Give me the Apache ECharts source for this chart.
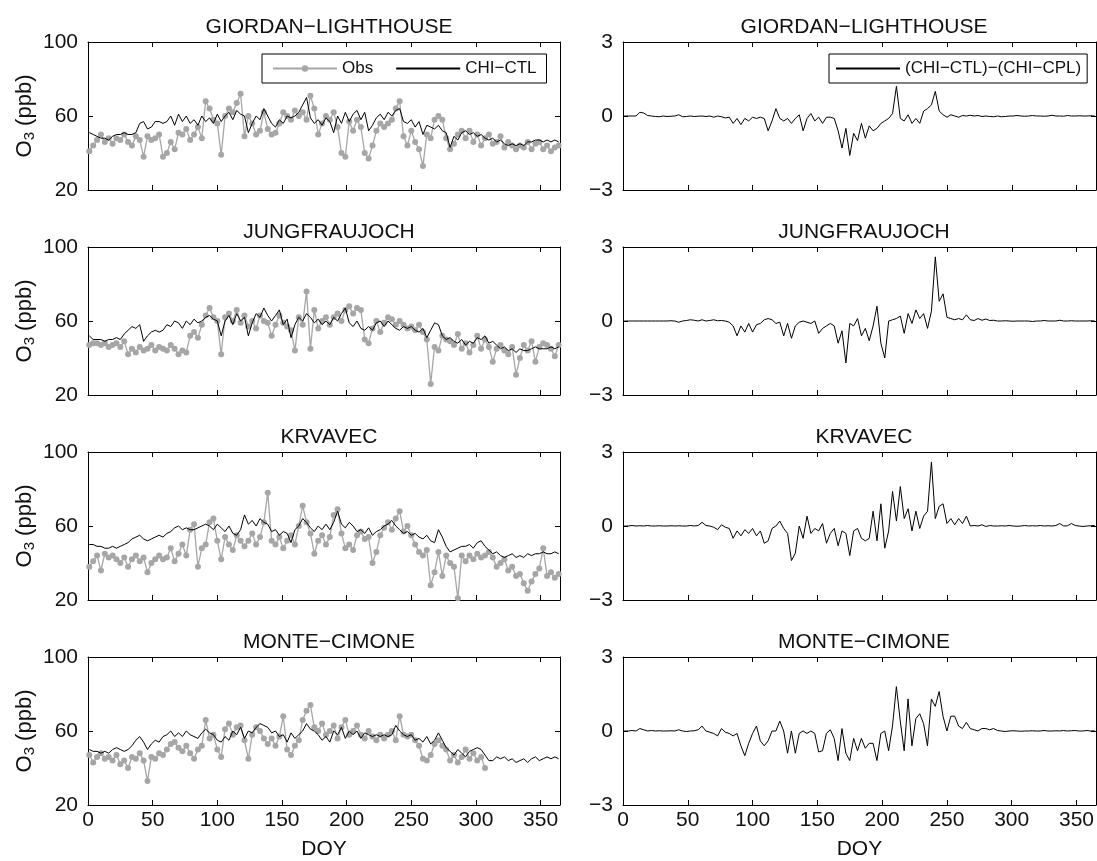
<!DOCTYPE html>
<html>
<head>
<meta charset="utf-8">
<script src="https://cdn.jsdelivr.net/npm/echarts@6/dist/echarts.min.js"></script>
<style>
  html, body { margin: 0; padding: 0; background: #fff; }
  #main { width: 1097px; height: 861px; }
</style>
</head>
<body>
<div id="main"></div>
<script>
// station names, one row each
const stations = ['GIORDAN−LIGHTHOUSE', 'JUNGFRAUJOCH', 'KRVAVEC', 'MONTE−CIMONE'];

// day of year of each sample (read every third day)
const days = Array.from({ length: 122 }, (_, i) => 1 + 3 * i);

// ---- O3 (ppb): observations and CHI-CTL run ----
const giordanObs = [
  41, 44, 47, 50, 46, 48, 45,
  48, 47, 50, 46, 44, 49,
  47, 38, 49, 47, 48, 50, 38,
  40, 46, 42, 51, 50, 53, 47,
  50, 54, 48, 68, 64, 58, 56,
  39, 60, 64, 62, 67, 72, 49,
  60, 56, 50, 52, 62, 53, 50,
  51, 56, 62, 60, 58, 63, 60,
  62, 58, 71, 64, 50, 56, 60,
  58, 62, 54, 40, 38, 57, 52,
  58, 54, 40, 37, 44, 52, 56,
  54, 56, 58, 64, 68, 49, 44,
  52, 46, 42, 33, 50, 48, 58,
  60, 58, 48, 42, 45, 50, 52,
  48, 52, 46, 50, 44, 48, 50,
  45, 46, 49, 43, 46, 44, 42,
  44, 43, 46, 42, 45, 46, 42,
  44, 41, 43, 44
];
const giordanCtl = [
  51, 50, 49, 48, 48, 47, 49,
  50, 50, 51, 50, 50, 51,
  56, 57, 53, 54, 57, 57, 56,
  57, 60, 55, 61, 57, 60, 56,
  58, 55, 60, 57, 59, 56, 61,
  57, 60, 62, 58, 63, 61, 60,
  51, 56, 60, 58, 64, 60, 56,
  54, 58, 56, 60, 59, 60, 62,
  66, 70, 59, 56, 58, 55, 59,
  57, 51, 60, 56, 62, 57, 61,
  63, 58, 62, 52, 55, 59, 61,
  58, 62, 60, 63, 64, 57, 56,
  58, 54, 57, 50, 55, 54, 53,
  55, 52, 51, 43, 49, 47, 51,
  52, 50, 51, 49, 50, 48, 47,
  48, 46, 47, 45, 44, 45, 44,
  45, 44, 46, 46, 47, 47, 46,
  47, 46, 47, 46
];
const jungfrauObs = [
  47, 48, 48, 47, 48, 46, 47,
  48, 46, 49, 42, 45, 43,
  46, 44, 45, 47, 44, 46, 45,
  44, 47, 45, 42, 44, 43, 52,
  54, 51, 58, 63, 67, 62, 60,
  42, 62, 64, 60, 66, 59, 63,
  57, 60, 56, 63, 60, 59, 52,
  58, 63, 59, 57, 55, 44, 62,
  58, 76, 45, 66, 56, 60, 62,
  58, 62, 64, 60, 66, 68, 64,
  67, 66, 50, 48, 56, 60, 54,
  59, 62, 61, 58, 60, 58, 56,
  57, 55, 58, 54, 50, 26, 46,
  44, 52, 50, 49, 47, 53, 45,
  48, 43, 47, 52, 45, 50, 46,
  38, 45, 47, 44, 42, 46, 31,
  40, 47, 44, 49, 38, 46, 48,
  47, 45, 41, 47
];
const jungfrauCtl = [
  52, 50, 50, 50, 49, 50, 50,
  51, 50, 53, 55, 57, 56,
  58, 49, 52, 54, 55, 54, 55,
  58, 57, 60, 59, 56, 60, 58,
  61, 59, 60, 62, 63, 61, 60,
  52, 60, 63, 58, 64, 60, 62,
  52, 59, 64, 62, 67, 63, 60,
  63, 66, 58, 61, 51, 58, 62,
  60, 64, 62, 59, 61, 58, 60,
  58, 62, 60, 64, 67, 59, 57,
  60, 56, 55, 57, 55, 59, 60,
  57, 60, 58, 56, 55, 57, 56,
  57, 55, 54, 56, 51, 55, 59,
  58, 52, 50, 51, 49, 48, 50,
  47, 49, 48, 51, 50, 52, 48,
  49, 47, 45, 46, 44, 45, 43,
  45, 44, 44, 45, 46, 45, 45,
  45, 46, 45, 46
];
const krvavecObs = [
  38, 41, 44, 36, 45, 43, 44,
  42, 40, 43, 38, 42, 44,
  41, 43, 35, 40, 42, 44, 42,
  43, 48, 41, 45, 50, 44, 58,
  61, 38, 48, 50, 62, 64, 52,
  42, 54, 50, 47, 55, 52, 49,
  52, 56, 50, 54, 62, 78, 52,
  50, 54, 48, 52, 55, 50, 60,
  71, 62, 56, 45, 52, 55, 50,
  54, 66, 69, 56, 48, 50, 47,
  55, 57, 53, 54, 40, 46, 55,
  59, 62, 58, 64, 68, 57, 60,
  55, 50, 46, 44, 47, 28, 35,
  46, 33, 44, 40, 38, 21, 44,
  41, 44, 42, 45, 43, 44, 46,
  43, 38, 40, 42, 36, 38, 33,
  34, 29, 25, 30, 34, 37, 48,
  33, 35, 32, 34
];
const krvavecCtl = [
  50, 50, 49, 49, 48, 48, 49,
  48, 49, 50, 51, 53, 54,
  55, 53, 52, 53, 54, 55, 54,
  56, 57, 59, 60, 58, 59, 58,
  58, 59, 60, 61, 60, 58, 61,
  59, 57, 60, 56, 55, 58, 66,
  61, 63, 60, 64, 62, 61, 57,
  58, 55, 57, 56, 51, 58, 60,
  64, 62, 59, 57, 60, 58, 61,
  58, 62, 68, 61, 59, 62, 60,
  57, 58, 56, 59, 55, 57, 58,
  60, 61, 63, 60, 58, 56, 57,
  55, 56, 54, 53, 55, 52, 51,
  58, 54, 49, 46, 47, 48, 49,
  49, 50, 48, 51, 52, 49, 47,
  45, 46, 44, 43, 44, 45, 43,
  44, 43, 45, 44, 45, 45, 46,
  45, 45, 46, 45
];
// Monte Cimone observations stop near day 307
const cimoneObs = [
  47, 43, 46, 48, 45, 46, 44,
  47, 42, 44, 40, 46, 45,
  48, 44, 33, 46, 45, 48, 47,
  50, 53, 54, 51, 49, 52, 48,
  45, 50, 52, 66, 56, 58, 50,
  46, 61, 64, 58, 62, 63, 55,
  45, 58, 62, 60, 56, 53, 56,
  52, 57, 68, 50, 47, 52, 55,
  66, 71, 74, 62, 60, 64, 58,
  60, 63, 56, 62, 66, 58, 60,
  63, 58, 56, 60, 57, 55, 58,
  56, 58, 60, 55, 68, 58, 57,
  58, 55, 52, 45, 44, 47, 53,
  55, 52, 50, 44, 47, 43, 46,
  50, 45, 48, 44, 46, 40
];
const cimoneCtl = [
  50, 49, 49, 48, 49, 48, 50,
  51, 50, 49, 50, 52, 55,
  57, 54, 50, 53, 55, 54, 57,
  58, 60, 57, 59, 57, 60, 58,
  57, 56, 59, 61, 59, 58, 55,
  54, 57, 55, 60, 58, 62, 56,
  60, 59, 62, 64, 63, 62, 59,
  60, 57, 58, 54, 59, 56, 58,
  60, 64, 61, 60, 58, 55, 57,
  54, 60, 58, 62, 56, 60, 58,
  60, 56, 59, 58, 57, 58, 57,
  58, 57, 58, 63, 60, 58, 57,
  58, 55, 56, 54, 57, 53, 55,
  59, 55, 51, 49, 47, 50, 48,
  46, 49, 50, 51, 50, 47, 44,
  44, 46, 45, 46, 44, 45, 43,
  44, 45, 43, 45, 46, 44, 45,
  46, 45, 46, 45
];

// ---- (CHI-CTL)-(CHI-CPL) differences ----
const giordanDiff = [
  0, 0, 0, 0, 0.15, 0.12, 0.02,
  0, -0.02, -0.03, 0, -0.02, -0.01,
  0, 0.05, -0.03, -0.02, 0, -0.02, -0.01,
  0, -0.02, 0, -0.05, 0, -0.03, -0.08,
  -0.05, -0.3, -0.1, -0.35, -0.1, -0.2, -0.05,
  -0.1, -0.05, -0.1, -0.6, -0.2, 0.3, -0.1,
  -0.2, -0.1, -0.3, -0.1, 0.05, -0.6, -0.1,
  0.1, -0.2, -0.05, -0.3, -0.05, -0.05, -0.1,
  -0.6, -1.3, -0.5, -1.6, -0.7, -1.0, -0.3,
  -0.9, -0.4, -0.6, -0.5, -0.3, -0.2, -0.1,
  0.1, 1.2, -0.1, -0.2, 0.05, -0.3, -0.1,
  -0.3, 0.2, 0.3, 0.45, 1.0, 0.2, 0.05,
  -0.05, 0.05, 0, -0.05, 0.02, 0, 0.03,
  0, 0.02, -0.02, 0, -0.02, -0.03, 0,
  -0.03, -0.02, 0, 0, 0.02, 0, -0.01,
  0, 0.02, 0, 0, -0.01, 0, 0.03,
  0, 0, -0.01, 0.02, 0, 0, 0.01,
  0, 0, 0.01, 0
];
const jungfrauDiff = [
  0, 0, 0, 0, 0, 0, 0,
  0, 0, 0, 0, 0, 0.01,
  0, -0.05, 0, 0.02, 0.05, 0.03, 0,
  0.05, 0, 0.02, 0.05, 0.01, 0.02, 0,
  -0.05, -0.2, -0.6, -0.2, -0.45, -0.1, -0.45,
  -0.15, -0.1, 0.05, 0.1, 0.05, -0.1, -0.05,
  -0.6, -0.1, -0.7, -0.2, -0.05, 0, -0.05,
  -0.1, 0, -0.5, -0.3, -0.2, -0.1, -0.2,
  -0.9, -0.4, -1.7, -0.1, -0.2, 0.1, -0.6,
  -0.3, -0.8, -0.2, 0.6, -0.9, -1.5, 0,
  0.05, 0.1, 0.2, -0.5, 0.3, -0.1, 0.45,
  0.1, 0.3, -0.3, 0.4, 2.6, 0.8, 1.1,
  0.15, 0.1, 0.05, 0.1, 0.05, 0.25, 0.05,
  0.02, 0.1, 0.03, 0.08, 0.02, 0.03, 0,
  0, 0.01, 0, -0.01, 0, 0, 0,
  0, -0.02, 0, 0, 0.02, 0, 0,
  0, 0.03, 0, 0, 0.01, 0, 0,
  0, 0, 0.01, 0
];
const krvavecDiff = [
  0, 0, 0.02, 0, 0.01, 0, 0.02,
  0, 0, 0.01, 0, 0, 0.01,
  0, 0.01, 0, 0, 0.02, 0, 0.02,
  0.15, 0.02, 0, -0.05, -0.15, 0.05, -0.05,
  -0.1, -0.5, -0.2, -0.4, -0.15, -0.3, -0.1,
  -0.4, -0.2, -0.7, -0.6, -0.1, 0, 0.2,
  -0.1, -0.3, -1.4, -1.1, 0, -0.5, 0.4,
  -0.3, -0.1, -0.2, 0.1, -0.7, -0.3, -0.1,
  -0.8, -0.2, -0.3, -1.2, -0.2, -0.1, -0.5,
  -0.6, -0.5, 0.6, -0.6, 0.9, -0.9, -0.2,
  1.4, 0.2, 1.6, 0.3, 0.7, -0.2, 0.6,
  -0.1, 0.4, 0.6, 2.6, 0.3, 0.8, 0.9,
  0.1, 0.3, 0.05, 0.3, 0.1, 0.4, 0,
  0.02, 0, 0.05, -0.02, 0.02, 0, 0,
  0.01, 0, 0.02, 0, -0.01, 0, 0.02,
  0, 0.01, 0, 0.02, 0, 0.01, 0,
  0.02, 0.1, 0, 0.01, 0.1, 0.02, 0,
  -0.02, 0, 0.01, 0.02
];
const cimoneDiff = [
  0, 0, 0.02, 0, 0.1, 0.05, 0,
  0.02, 0, 0.01, 0, 0, 0.01,
  0, 0.05, 0, -0.02, 0, 0.01, 0.05,
  0.2, 0, -0.05, -0.1, -0.2, 0.1, -0.05,
  -0.1, -0.2, -0.1, -0.6, -1.0, -0.5, -0.1,
  0.2, -0.4, -0.6, -0.4, 0, 0, 0.4,
  0, -0.9, 0, -0.9, -0.1, 0, -0.1,
  0, -0.1, -0.85, -0.8, -0.1, 0.05, -0.3,
  -1.2, 0.1, -0.9, -1.2, -0.3, -0.8, -0.3,
  -0.7, -0.5, -0.5, -1.2, -0.1, 0, -0.8,
  0.2, 1.8, 0.4, -0.8, 1.3, -0.6, 0.5,
  0.7, 0.3, -0.6, 1.3, 1.0, 1.6, 0.6,
  0, 0.6, 0.6, 0.2, 0.1, 0.35, 0.1,
  0.05, 0, 0.1, 0.1, 0.05, 0.1, 0.02,
  0, -0.02, 0, 0.01, 0, -0.01, 0,
  0, 0.01, 0, 0, 0.02, 0, 0,
  0.01, 0, 0.02, 0, 0.01, 0.02, 0,
  0, 0.02, 0, 0.01
];

const obsRows = [giordanObs, jungfrauObs, krvavecObs, cimoneObs];
const ctlRows = [giordanCtl, jungfrauCtl, krvavecCtl, cimoneCtl];
const diffRows = [giordanDiff, jungfrauDiff, krvavecDiff, cimoneDiff];

const o3Ticks = [20, 60, 100];
const diffTicks = [-3, 0, 3];

// layout
const FONT = '"Liberation Sans", Arial, sans-serif';
const COL_LEFT = [88, 623];
const PLOT_W = 472;
const ROW_TOP = [42, 247, 452, 657];
const PLOT_H = 148;
const GRAY = '#a6a6a6';
const INK = '#111';
const FS = 21;

const pair = arr => arr.map((v, i) => [days[i], v]);
const minusSign = v => (v < 0 ? '−' + Math.abs(v) : String(v));

const grid = [], xAxis = [], yAxis = [], title = [], series = [];

for (let r = 0; r < 4; r++) {
  for (let c = 0; c < 2; c++) {
    const p = r * 2 + c;
    const left = COL_LEFT[c], top = ROW_TOP[r];
    grid.push({ left: left, top: top, width: PLOT_W + (c === 1 ? 1 : 0), height: PLOT_H });
    title.push({
      text: stations[r],
      left: left + PLOT_W / 2,
      top: top - 30,
      textAlign: 'center',
      textStyle: { fontFamily: FONT, fontSize: FS, fontWeight: 'normal', color: INK }
    });

    const boxLine = { show: true, onZero: false, lineStyle: { color: '#000', width: 1 } };
    const inTick = { show: true, inside: true, length: 5, lineStyle: { color: '#000', width: 1 } };
    const last = r === 3;
    xAxis.push({
      type: 'value', gridIndex: p, position: 'bottom', min: 0, max: 365, interval: 50,
      axisLine: boxLine, axisTick: inTick, splitLine: { show: false },
      axisLabel: { show: last, showMaxLabel: false, margin: 5, fontFamily: FONT, fontSize: FS, color: INK },
      name: last ? 'DOY' : '', nameLocation: 'middle', nameGap: 34,
      nameTextStyle: { fontFamily: FONT, fontSize: FS, color: INK }
    });
    xAxis.push({
      type: 'value', gridIndex: p, position: 'top', min: 0, max: 365, interval: 50,
      axisLine: boxLine, axisTick: inTick, splitLine: { show: false }, axisLabel: { show: false }
    });

    const ticks = c === 0 ? o3Ticks : diffTicks;
    const yBase = {
      type: 'value', gridIndex: p, min: ticks[0], max: ticks[2], interval: ticks[1] - ticks[0],
      axisLine: boxLine, axisTick: inTick, splitLine: { show: false }
    };
    yAxis.push(Object.assign({}, yBase, {
      position: 'left',
      axisLabel: { margin: 10, fontFamily: FONT, fontSize: FS, color: INK, formatter: minusSign },
      name: c === 0 ? '{a|O}{s|3}{a| (ppb)}' : '',
      nameLocation: 'middle', nameGap: 51,
      nameTextStyle: {
        fontFamily: FONT, color: INK,
        rich: {
          a: { fontFamily: FONT, fontSize: 22, color: INK },
          s: { fontFamily: FONT, fontSize: 15, color: INK, padding: [10, 0, 0, 0] }
        }
      }
    }));
    yAxis.push(Object.assign({}, yBase, { position: 'right', axisLabel: { show: false } }));

    if (c === 0) {
      series.push({
        name: 'Obs', type: 'line', xAxisIndex: 2 * p, yAxisIndex: 2 * p,
        data: pair(obsRows[r]), symbol: 'circle', symbolSize: 6, showSymbol: true,
        lineStyle: { color: GRAY, width: 1.3 }, itemStyle: { color: GRAY }, z: 2
      });
      series.push({
        name: 'CHI−CTL', type: 'line', xAxisIndex: 2 * p, yAxisIndex: 2 * p,
        data: pair(ctlRows[r]), symbol: 'none',
        lineStyle: { color: '#000', width: 1 }, itemStyle: { color: '#000' }, z: 3
      });
    } else {
      series.push({
        name: '(CHI−CTL)−(CHI−CPL)', type: 'line', xAxisIndex: 2 * p, yAxisIndex: 2 * p,
        data: pair(diffRows[r]), symbol: 'none',
        lineStyle: { color: '#000', width: 1 }, itemStyle: { color: '#000' }, z: 3
      });
    }
  }
}

// plain line icons for the model runs: hide the default centre dot
const noDot = { color: 'rgba(0,0,0,0)', borderWidth: 0 };
const legendText = { fontFamily: FONT, fontSize: 17, color: INK };
const legend = [
  {
    data: ['Obs', { name: 'CHI−CTL', itemStyle: noDot }], left: 262, top: 54, orient: 'horizontal',
    itemWidth: 64, itemHeight: 8, itemGap: 22, padding: [6, 10, 6, 10],
    backgroundColor: '#fff', borderColor: '#000', borderWidth: 1, textStyle: legendText
  },
  {
    data: [{ name: '(CHI−CTL)−(CHI−CPL)', itemStyle: noDot }], left: 829, top: 54,
    itemWidth: 64, itemHeight: 8, padding: [6, 6, 6, 6],
    backgroundColor: '#fff', borderColor: '#000', borderWidth: 1, textStyle: legendText
  }
];

const chart = echarts.init(document.getElementById('main'));
chart.setOption({
  backgroundColor: '#fff',
  animation: false,
  title: title,
  legend: legend,
  grid: grid,
  xAxis: xAxis,
  yAxis: yAxis,
  series: series
});
</script>
</body>
</html>
